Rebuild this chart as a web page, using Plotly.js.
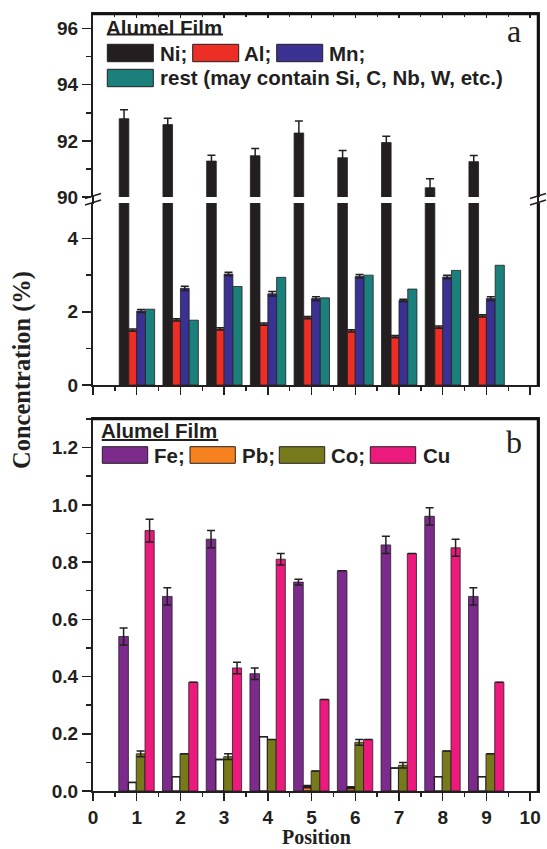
<!DOCTYPE html>
<html>
<head>
<meta charset="utf-8">
<script src="https://cdn.plot.ly/plotly-3.0.1.min.js"></script>
<style>html,body{margin:0;padding:0;background:#fff;overflow:hidden;} #chart{width:547px;height:849px;}</style>
</head>
<body>
<div id="chart"></div>
<script>
// ---- data ----
const positions = [1, 2, 3, 4, 5, 6, 7, 8, 9];
const xTickVals = [0, 1, 2, 3, 4, 5, 6, 7, 8, 9, 10];

const ni    = [92.79, 92.58, 91.28, 91.47, 92.28, 91.40, 91.94, 90.33, 91.26];
const niErr = [0.32, 0.23, 0.21, 0.26, 0.43, 0.26, 0.22, 0.32, 0.22];
const al    = [1.50, 1.78, 1.53, 1.66, 1.84, 1.48, 1.32, 1.58, 1.89];
const alErr = [0.03, 0.03, 0.03, 0.03, 0.03, 0.03, 0.03, 0.03, 0.03];
const mn    = [2.02, 2.64, 3.03, 2.49, 2.36, 2.97, 2.31, 2.95, 2.36];
const mnErr = [0.04, 0.06, 0.05, 0.06, 0.05, 0.05, 0.03, 0.05, 0.05];
const rest  = [2.07, 1.77, 2.69, 2.94, 2.38, 3.00, 2.62, 3.13, 3.27];

const fe    = [0.54, 0.68, 0.88, 0.41, 0.73, 0.77, 0.86, 0.96, 0.68];
const feErr = [0.03, 0.03, 0.03, 0.02, 0.01, null, 0.03, 0.03, 0.03];
const pb    = [0.03, 0.05, 0.11, 0.19, 0.015, 0.012, 0.08, 0.05, 0.05];
const pbErr = [null, null, null, null, 0.004, 0.003, null, null, null];
const co    = [0.13, 0.13, 0.12, 0.18, 0.07, 0.17, 0.09, 0.14, 0.13];
const coErr = [0.01, null, 0.01, null, null, 0.01, 0.01, null, null];
const cu    = [0.91, 0.38, 0.43, 0.81, 0.32, 0.18, 0.83, 0.85, 0.38];
const cuErr = [0.04, null, 0.02, 0.02, null, null, null, 0.03, null];

const legendTopRow1 = ['Ni;', 'Al;', 'Mn;'];
const legendTopRow2 = ['rest (may contain Si, C, Nb, W, etc.)'];
const legendBottom = ['Fe;', 'Pb;', 'Co;', 'Cu'];

// ---- styles ----
const dark = '#231f20';
const C = {ni:'#231f20', al:'#ed2e24', mn:'#3b3192', rest:'#1b7f7c',
           fe:'#7d2a8d', pb:'#f5821f', co:'#767a1b', cu:'#ec1a7c'};
const pbFill = ['#ffffff','#ffffff','#ffffff','#ffffff',C.pb,C.pb,'#ffffff','#ffffff','#ffffff'];

const W = 547, H = 849;
const px = v => v / W;
const py = v => 1 - v / H;

const L = 93, R = 538;
const xDom = [px(L), px(R)];
const dUpper = [py(197), py(14)];
const dLower = [py(385), py(203)];
const dBottom = [py(791), py(419)];
const rUpper = [90, 96.52], rLower = [0, 4.97], rBottom = [0, 1.3], rX = [0, 10.18];

function bar(y, err, color, xa, ya, offset, width, lw) {
  const t = {
    type:'bar', x: positions, y: y, xaxis: xa, yaxis: ya,
    offset: offset, width: width, showlegend:false, hoverinfo:'skip',
    marker:{color: color, line:{color: dark, width: lw || 0.8}}
  };
  if (err) t.error_y = {type:'data', array: err, visible:true, color: dark, thickness:1.5, width:4};
  return t;
}

const traces = [
  bar(ni, niErr, C.ni, 'x3', 'y4', -0.40, 0.22),
  bar(ni, null, C.ni, 'x2', 'y2', -0.40, 0.22),
  bar(al, alErr, C.al, 'x2', 'y2', -0.18, 0.18),
  bar(mn, mnErr, C.mn, 'x2', 'y2', 0.0, 0.20),
  bar(rest, null, C.rest, 'x2', 'y2', 0.20, 0.21),
  bar(fe, feErr, C.fe, 'x', 'y3', -0.41, 0.22),
  bar(pb, pbErr, pbFill, 'x', 'y3', -0.19, 0.18, 1.3),
  bar(co, coErr, C.co, 'x', 'y3', -0.01, 0.20),
  bar(cu, cuErr, C.cu, 'x', 'y3', 0.19, 0.21)
];

const tickFont = {family:'Liberation Sans, Arial, sans-serif', size:19, color: dark, weight:'bold'};

function baseAxis(extra) {
  return Object.assign({
    showgrid:false, zeroline:false, showline:true, linecolor: dark, linewidth:2,
    tickcolor: dark, tickwidth:1.5, tickfont: tickFont, fixedrange:true
  }, extra);
}
const minorX = {dtick:0.5, tick0:0, ticks:'outside', ticklen:4, tickwidth:1.5, tickcolor:dark};

const layout = {
  width: W, height: H, margin:{l:0, r:0, t:0, b:0, pad:0},
  paper_bgcolor:'#fff', plot_bgcolor:'rgba(0,0,0,0)',
  barmode:'overlay', showlegend:false,
  xaxis: baseAxis({domain:xDom, anchor:'y3', range:rX, tickvals: xTickVals, ticks:'outside', ticklen:8,
    mirror:true, minor:minorX}),
  xaxis2: baseAxis({domain:xDom, anchor:'y2', range:rX, dtick:1, tick0:0, ticks:'outside', ticklen:8,
    showticklabels:false, minor:minorX}),
  xaxis3: baseAxis({domain:xDom, anchor:'y4', side:'top', range:rX, dtick:1, tick0:0, ticks:'inside', ticklen:4,
    showticklabels:false, minor:{dtick:0.5, tick0:0, ticks:'inside', ticklen:3, tickwidth:1.2, tickcolor:dark}}),
  yaxis2: baseAxis({domain:dLower, anchor:'x2', range:rLower, dtick:2, tick0:0, ticks:'outside', ticklen:9, mirror:true,
    minor:{dtick:1, tick0:0, ticks:'outside', ticklen:5, tickwidth:1.5, tickcolor:dark}}),
  yaxis3: baseAxis({domain:dBottom, anchor:'x', range:rBottom, dtick:0.2, tick0:0, tickformat:'.1f', ticks:'outside', ticklen:9,
    mirror:true, minor:{dtick:0.1, tick0:0, ticks:'outside', ticklen:5, tickwidth:1.5, tickcolor:dark}}),
  yaxis4: baseAxis({domain:dUpper, anchor:'x3', range:rUpper, dtick:2, tick0:0, ticks:'outside', ticklen:9, mirror:true,
    minor:{dtick:1, tick0:0, ticks:'outside', ticklen:5, tickwidth:1.5, tickcolor:dark}}),
  shapes: [],
  annotations: []
};

function pline(x0, y0, x1, y1, w, col) {
  layout.shapes.push({type:'line', xref:'paper', yref:'paper', x0:px(x0), y0:py(y0), x1:px(x1), y1:py(y1),
    layer:'above', line:{color: col || dark, width:w || 1.5}});
}
// panel frame edges (top and right sides)
pline(L - 1, 14, R + 1, 14, 2.5, '#111111');
pline(R, 13, R, 197, 2.5, '#111111');
pline(R, 203, R, 386, 2.5, '#111111');
pline(L - 1, 419, R + 1, 419, 2.5, '#111111');
pline(R, 418, R, 792, 2.5, '#111111');
// axis break marks
pline(L, 196, L, 204, 2);
pline(R, 196, R, 204, 2);
pline(85, 198.5, 101, 193.5);
pline(85, 205, 101, 200);
pline(530, 198.5, 546, 193.5);
pline(530, 205, 546, 200);

const legFont = {family:'Liberation Sans, Arial, sans-serif', size:20.5, color: dark, weight:'bold'};
function txt(text, x, y, font, anchor, yanchor) {
  layout.annotations.push({text:text, xref:'paper', yref:'paper', x:px(x), y:py(y),
    xanchor: anchor || 'left', yanchor: yanchor || 'middle', showarrow:false, font: font, borderpad:0});
}
function box(x0, y0, x1, y1, color) {
  layout.shapes.push({type:'rect', xref:'paper', yref:'paper', x0:px(x0), y0:py(y0), x1:px(x1), y1:py(y1),
    fillcolor: color, line:{color: dark, width:1}});
}

// top legend
txt('Alumel Film', 105, 27, legFont);
pline(107, 34.5, 223, 34.5, 2);
box(107.3, 44.3, 153.3, 61.7, C.ni);  txt(legendTopRow1[0], 159, 53, legFont);
box(192.7, 44.3, 238.7, 61.7, C.al);  txt(legendTopRow1[1], 243, 53, legFont);
box(276.7, 44.3, 322.7, 61.7, C.mn);  txt(legendTopRow1[2], 328, 53, legFont);
box(107.3, 69.3, 153.3, 86.7, C.rest); txt(legendTopRow2[0], 159, 78, legFont);

// bottom legend
txt('Alumel Film', 100, 430, legFont);
pline(101.7, 440, 218.3, 440, 2);
box(102.3, 446.7, 147.7, 463.3, C.fe); txt(legendBottom[0], 153, 455, legFont);
box(190, 446.7, 235.3, 463.3, C.pb);   txt(legendBottom[1], 241, 455, legFont);
box(279.3, 446.7, 324.7, 463.3, C.co); txt(legendBottom[2], 330, 455, legFont);
box(370.3, 446.7, 415.7, 463.3, C.cu); txt(legendBottom[3], 421.5, 455, legFont);

// panel labels
const panelFont = {family:'Liberation Serif, Times New Roman, serif', size:32, color: dark};
txt('a', 514, 31, panelFont, 'center');
txt('b', 514, 442, panelFont, 'center');

// axis titles
const titleFont = {family:'Liberation Serif, Times New Roman, serif', size:24.5, color: dark, weight:'bold'};
layout.annotations.push({text:'Concentration (%)', xref:'paper', yref:'paper', x:px(22), y:py(370),
  xanchor:'center', yanchor:'middle', textangle:-90, showarrow:false, font:titleFont});
const xTitleFont = {family:'Liberation Serif, Times New Roman, serif', size:20, color: dark, weight:'bold'};
txt('Position', 316, 849, xTitleFont, 'center', 'bottom');

Plotly.newPlot('chart', traces, layout, {staticPlot:true, displayModeBar:false});
</script>
</body>
</html>
